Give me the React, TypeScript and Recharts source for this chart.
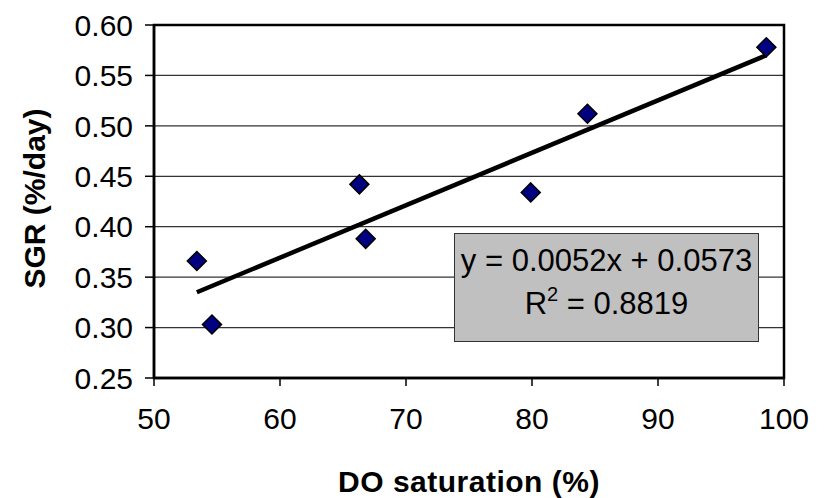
import { ScatterChart, Scatter, XAxis, YAxis, CartesianGrid, ReferenceArea } from "recharts";

// DO saturation (%) vs SGR (%/day)
const doSaturation = [53.4, 54.6, 66.3, 66.8, 79.9, 84.4, 98.6];
const sgrValues = [0.366, 0.303, 0.442, 0.388, 0.434, 0.512, 0.578];

const xTicks = [50, 60, 70, 80, 90, 100];
const yTicks = [0.25, 0.3, 0.35, 0.4, 0.45, 0.5, 0.55, 0.6];

// linear trendline as reported on the chart
const slope = 0.0052;
const intercept = 0.0573;
const rSquared = "0.8819";

const points = doSaturation.map((x, i) => ({ x, y: sgrValues[i] }));
const xMin = Math.min(...doSaturation);
const xMax = Math.max(...doSaturation);
const trend = [xMin, xMax].map(x => ({ x, y: slope * x + intercept }));

const FONT = '"Liberation Sans", Arial, sans-serif';

const Diamond = (props: any) => {
    const { cx, cy } = props;
    const r = 9.5;
    return (
        <polygon
            points={`${cx},${cy - r} ${cx + r},${cy} ${cx},${cy + r} ${cx - r},${cy}`}
            fill="#000080"
            stroke="#000"
            strokeWidth={1.5}
        />
    );
};

const XLabel = ({ viewBox }: any) => (
    <text x={viewBox.x + viewBox.width / 2} y={viewBox.y + 114} textAnchor="middle"
          fontFamily={FONT} fontWeight="bold" fontSize={30} letterSpacing={0.5} fill="#000">
        DO saturation (%)
    </text>
);

const YLabel = ({ viewBox }: any) => {
    const cx = 45;
    const cy = viewBox.y + viewBox.height / 2 - 3;
    return (
        <text x={cx} y={cy} textAnchor="middle" transform={`rotate(-90, ${cx}, ${cy})`}
              fontFamily={FONT} fontWeight="bold" fontSize={30} fill="#000">
            SGR (%/day)
        </text>
    );
};

const App = () => {
    return (
        <div style={{ position: "absolute", left: 0, top: 0, width: 825, height: 498, background: "#fff" }}>
            <ScatterChart width={825} height={498} margin={{ top: 25, right: 41, bottom: 0, left: 0 }}>
                <CartesianGrid vertical={false} stroke="#333" strokeWidth={1.2} />
                <XAxis type="number" dataKey="x" domain={[50, 100]} ticks={xTicks} height={120}
                       axisLine={{ stroke: "#000", strokeWidth: 2.5 }}
                       tickLine={{ stroke: "#000", strokeWidth: 1.5 }} tickSize={8} tickMargin={22}
                       tick={{ fontFamily: FONT, fontSize: 30, fill: "#000" }}
                       label={<XLabel />} />
                <YAxis type="number" dataKey="y" domain={[0.25, 0.6]} ticks={yTicks} width={154}
                       tickFormatter={(v: number) => v.toFixed(2)}
                       axisLine={{ stroke: "#000", strokeWidth: 2.5 }}
                       tickLine={{ stroke: "#000", strokeWidth: 1.5 }} tickSize={9} tickMargin={12}
                       tick={{ fontFamily: FONT, fontSize: 30, fill: "#000" }}
                       label={<YLabel />} />
                <ReferenceArea x1={50} x2={100} y1={0.25} y2={0.6} fill="none" stroke="#000" strokeWidth={2.5} />
                <Scatter data={trend} line={{ stroke: "#000", strokeWidth: 4.5 }} lineType="joint"
                         shape={() => <g />} legendType="none" isAnimationActive={false} />
                <Scatter data={points} shape={<Diamond />} isAnimationActive={false} />
            </ScatterChart>
            <div style={{
                position: "absolute", left: 454, top: 233, width: 305, height: 109, boxSizing: "border-box",
                background: "#c0c0c0", border: "1.5px solid #333", fontFamily: FONT, fontSize: 31,
                lineHeight: "43px", textAlign: "center", paddingTop: 5, color: "#000",
            }}>
                <div>y = {slope.toFixed(4)}x + {intercept.toFixed(4)}</div>
                <div>R<sup style={{ fontSize: 20, lineHeight: 0, verticalAlign: "13px" }}>2</sup> = {rSquared}</div>
            </div>
        </div>
    );
};

export default App;
